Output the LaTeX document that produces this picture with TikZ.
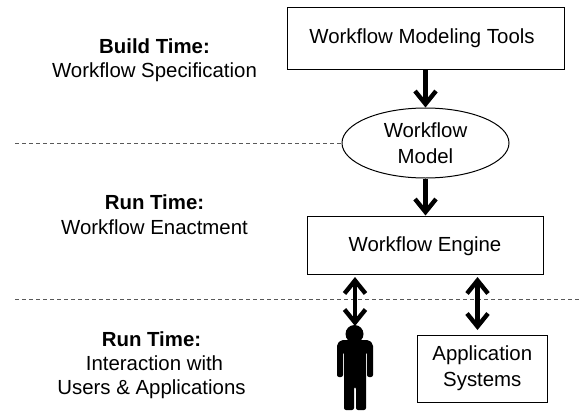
\documentclass[tikz,border=0pt]{standalone}
\usepackage{fontspec}
\setmainfont{Liberation Sans}
\usetikzlibrary{arrows.meta,shapes.geometric}
\tikzset{
  box/.style={draw=black,line width=1pt,align=center,inner sep=0pt,font=\fontsize{20.4}{26}\selectfont},
  lbl/.style={align=center,inner sep=0pt,font=\fontsize{20.4}{24.2}\selectfont},
  flow/.style={line width=4.4pt,-{Straight Barb[length=13pt,width=21pt,line width=4.4pt]}},
  twoway/.style={line width=4.4pt,{Straight Barb[length=13pt,width=21pt,line width=4.4pt]}-{Straight Barb[length=13pt,width=21pt,line width=4.4pt]}},
  sep/.style={draw=black!65,line width=1pt,dash pattern=on 4pt off 3pt},
  figure/.style={fill=black,draw=none}
}
\begin{document}
\begin{tikzpicture}[x=1pt,y=-1pt]
\useasboundingbox (0,0) rectangle (581,410);
\fill[white] (0,0) rectangle (581,410);
\coordinate (s1a) at (15,143);
\coordinate (s1b) at (342,143);
\coordinate (s2a) at (15,299);
\coordinate (s2b) at (581,299);
\draw[sep] (s1a) -- (s1b);
\draw[sep] (s2a) -- (s2b);
\node[box,minimum width=277pt,minimum height=62pt] (tools) at (425.5,38) {Workflow Modeling Tools\hspace*{7pt}};
\node[box,ellipse,minimum width=167pt,minimum height=70pt] (model) at (425.5,143) {Workflow\\Model};
\node[box,minimum width=236pt,minimum height=58pt,text height=18pt,text depth=4.6pt] (engine) at (425,245) {Workflow Engine};
\node[box,minimum width=130pt,minimum height=67pt] (apps) at (482.3,368.5) {Application\\Systems};
\node[lbl] (l1) at (154.5,60) {\textbf{Build Time:}\\Workflow Specification};
\node[lbl] (l2) at (154.5,214.8) {\textbf{Run Time:}\\Workflow Enactment};
\node[lbl] (l3) at (151.5,365) {\textbf{Run Time:}\\\hspace*{6pt}Interaction with\\Users \& Applications};
% person
\node[figure,circle,minimum size=18pt,inner sep=0pt] (head) at (354.5,334) {};
\fill[black,rounded corners=2pt] (341,340) -- (369,340) -- (373,344) -- (373,377) -- (367,377) -- (367,352) -- (366,352)
  -- (366,410) -- (356,410) -- (356,387) -- (354,387) -- (354,410) -- (344,410) -- (344,352) -- (343,352) -- (343,377) -- (337,377) -- (337,344) -- cycle;
\draw[flow] (tools.south -| model.north) -- (model.north);
\draw[flow] (model.south) -- (engine.north -| model.south);
\coordinate (e1) at (355,277);
\coordinate (e2) at (477.5,277);
\coordinate (h1) at (355,326);
\coordinate (a1) at (477.5,330);
\draw[twoway] (e1) -- (h1);
\draw[twoway] (e2) -- (a1);
\end{tikzpicture}
\end{document}
